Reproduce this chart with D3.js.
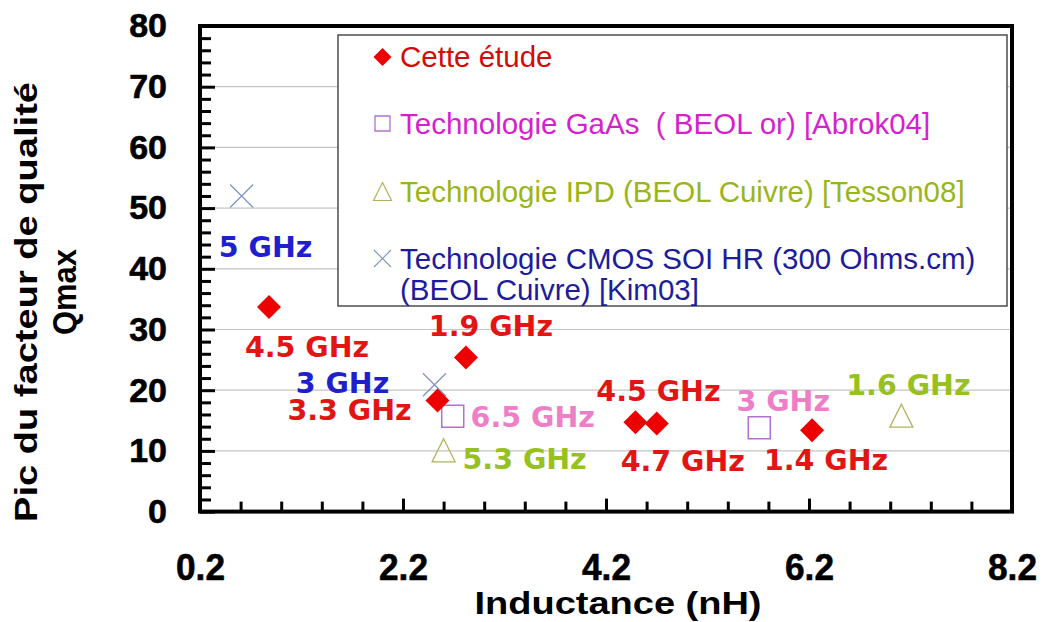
<!DOCTYPE html>
<html>
<head>
<meta charset="utf-8">
<script src="https://cdn.jsdelivr.net/npm/d3@7"></script>
<style>
  html, body { margin: 0; padding: 0; background: #fff; }
  svg { display: block; }
  text { white-space: pre; }
</style>
</head>
<body>
<svg id="chart" width="1042" height="622"></svg>
<script>
// ---- Data: peak quality factor (Qmax) vs inductance (nH) ----
const xTicks = [0.2, 2.2, 4.2, 6.2, 8.2];
const yTicks = [0, 10, 20, 30, 40, 50, 60, 70, 80];

const etudeL = [0.88, 2.82, 2.54, 4.49, 4.70, 6.23];
const etudeQ = [33.7, 25.4, 18.3, 14.7, 14.5, 13.4];
const etudeFreq = ["4.5 GHz", "1.9 GHz", "3.3 GHz", "4.5 GHz", "4.7 GHz", "1.4 GHz"];

const gaasL = [2.69, 5.71];
const gaasQ = [15.7, 13.8];
const gaasFreq = ["6.5 GHz", "3 GHz"];

const ipdL = [2.60, 7.11];
const ipdQ = [10.1, 15.8];
const ipdFreq = ["5.3 GHz", "1.6 GHz"];

const cmosL = [0.61, 2.51];
const cmosQ = [52.0, 20.9];
const cmosFreq = ["5 GHz", "3 GHz"];

const legendLabels = [
  ["Cette étude"],
  ["Technologie GaAs  ( BEOL or) [Abrok04]"],
  ["Technologie IPD (BEOL Cuivre) [Tesson08]"],
  ["Technologie CMOS SOI HR (300 Ohms.cm)", "(BEOL Cuivre) [Kim03]"]
];

// ---- Layout ----
const svg = d3.select("#chart");
const plot = { left: 200, right: 1012, top: 26, bottom: 511.6 };
const x = d3.scaleLinear().domain([0.2, 8.2]).range([plot.left, plot.right]);
const y = d3.scaleLinear().domain([0, 80]).range([plot.bottom, plot.top]);

// label offsets (pixels, relative to the marker) for each frequency annotation
const etudeOffsets = [[38, 50], [25, -21], [-88, 19], [23, -21], [26, 47], [14, 40]];
const gaasOffsets = [[80, 11], [24, -17]];
const ipdOffsets = [[81, 19], [7, -21]];
const cmosOffsets = [[24, 61], [-92, 8]];

const styles = {
  etude: { fill: "#ee0000", text: "#e31414", legendText: "#d40a0a" },
  gaas: { stroke: "#b070cf", text: "#ee7ec6", legendText: "#d61fcf" },
  ipd: { stroke: "#b2b25c", text: "#96c11f", legendText: "#9ab51a" },
  cmos: { stroke: "#7f92c6", text: "#1f1fcf", legendText: "#1c1c9c" }
};

const sans = "'Liberation Sans', Arial, sans-serif";
const wide = "'DejaVu Sans', Verdana, sans-serif";

// ---- Gridlines ----
svg.append("g")
  .selectAll("line")
  .data(yTicks.filter(v => v > 0 && v < 80))
  .join("line")
  .attr("x1", plot.left).attr("x2", plot.right)
  .attr("y1", d => y(d)).attr("y2", d => y(d))
  .attr("stroke", "#c4c4c4").attr("stroke-width", 1.2);

// ---- Legend box ----
const legend = svg.append("g");
legend.append("rect")
  .attr("x", 338).attr("y", 35).attr("width", 669).attr("height", 271)
  .attr("fill", "#fff").attr("stroke", "#4d4d4d").attr("stroke-width", 1.5);

// marker path builders
function diamond(s) { const h = s / 2; return `M0,${-h}L${h},0L0,${h}L${-h},0Z`; }
function square(s) { const h = s / 2; return `M${-h},${-h}H${h}V${h}H${-h}Z`; }
function triangle(s) { const h = s / 2; return `M0,${-h}L${h},${h}L${-h},${h}Z`; }
function cross(s) { const h = s / 2; return `M${-h},${-h}L${h},${h}M${h},${-h}L${-h},${h}`; }

const legendRows = [
  { key: "etude", baseline: 67, path: diamond(18), fill: styles.etude.fill, stroke: "none", sw: 0 },
  { key: "gaas", baseline: 133.5, path: square(15), fill: "none", stroke: styles.gaas.stroke, sw: 1.3 },
  { key: "ipd", baseline: 201.5, path: triangle(18), fill: "none", stroke: styles.ipd.stroke, sw: 1.2 },
  { key: "cmos", baseline: 268.5, path: cross(17), fill: "none", stroke: styles.cmos.stroke, sw: 1.1 }
];

legendRows.forEach((r, i) => {
  legend.append("path")
    .attr("d", r.path)
    .attr("transform", `translate(382.5,${r.baseline - 10})`)
    .attr("fill", r.fill).attr("stroke", r.stroke).attr("stroke-width", r.sw);
  legendLabels[i].forEach((line, j) => {
    legend.append("text")
      .attr("x", 400).attr("y", r.baseline + j * 31.5)
      .attr("font-family", sans).attr("font-size", 29.5)
      .attr("fill", styles[r.key].legendText)
      .text(line);
  });
});

// ---- Frame ----
svg.append("rect")
  .attr("x", plot.left).attr("y", plot.top)
  .attr("width", plot.right - plot.left).attr("height", plot.bottom - plot.top)
  .attr("fill", "none").attr("stroke", "#000").attr("stroke-width", 4);

// ---- Axes ----
const yMinor = d3.range(0, 81, 2).filter(v => v % 10 !== 0);
const xMinor = d3.range(0, 21).map(i => +(0.2 + i * 0.4).toFixed(1)).filter(v => !xTicks.includes(v));

const yMinorAxis = svg.append("g").attr("transform", `translate(${plot.left},0)`)
  .call(d3.axisLeft(y).tickValues(yMinor).tickSize(-11).tickSizeOuter(0).tickFormat(""));
const yAxis = svg.append("g").attr("transform", `translate(${plot.left},0)`)
  .call(d3.axisLeft(y).tickValues(yTicks).tickSize(-15).tickSizeOuter(0).tickPadding(33).tickFormat(d3.format("d")));

const xMinorAxis = svg.append("g").attr("transform", `translate(0,${plot.bottom})`)
  .call(d3.axisBottom(x).tickValues(xMinor).tickSize(-10).tickSizeOuter(0).tickFormat(""));
const xAxis = svg.append("g").attr("transform", `translate(0,${plot.bottom})`)
  .call(d3.axisBottom(x).tickValues(xTicks).tickSize(-13).tickSizeOuter(0).tickFormat(d3.format(".1f")));

[yMinorAxis, yAxis, xMinorAxis, xAxis].forEach(g => {
  g.select(".domain").remove();
  g.selectAll(".tick line").attr("stroke", "#000").attr("stroke-width", 3);
});

yAxis.selectAll(".tick text")
  .attr("font-family", sans).attr("font-size", 34).attr("font-weight", "bold").attr("fill", "#000")
  .attr("stroke", "#000").attr("stroke-width", 0.6);

xAxis.selectAll(".tick text")
  .attr("font-family", sans).attr("font-size", 37).attr("font-weight", "bold").attr("fill", "#000")
  .attr("stroke", "#000").attr("stroke-width", 0.6)
  .attr("y", 68).attr("dy", null)
  .attr("textLength", 49).attr("lengthAdjust", "spacingAndGlyphs");

// ---- Axis titles ----
svg.append("text")
  .attr("x", 618).attr("y", 614)
  .attr("text-anchor", "middle")
  .attr("font-family", sans).attr("font-size", 31).attr("font-weight", "bold")
  .attr("textLength", 287).attr("lengthAdjust", "spacingAndGlyphs")
  .text("Inductance (nH)");

svg.append("text")
  .attr("transform", "translate(37,302) rotate(-90)")
  .attr("text-anchor", "middle")
  .attr("font-family", sans).attr("font-size", 32).attr("font-weight", "bold")
  .attr("textLength", 440).attr("lengthAdjust", "spacingAndGlyphs")
  .text("Pic du facteur de qualité");

svg.append("text")
  .attr("transform", "translate(76,292) rotate(-90)")
  .attr("text-anchor", "middle")
  .attr("font-family", sans).attr("font-size", 33).attr("font-weight", "bold")
  .attr("textLength", 86).attr("lengthAdjust", "spacingAndGlyphs")
  .text("Qmax");

// ---- Series markers and frequency labels ----
function drawSeries(L, Q, freq, offsets, markerPath, attrs, textColor) {
  const pts = L.map((v, i) => ({ l: v, q: Q[i], f: freq[i], o: offsets[i] }));
  const g = svg.append("g");
  g.selectAll("path")
    .data(pts)
    .join("path")
    .attr("d", markerPath)
    .attr("transform", d => `translate(${x(d.l)},${y(d.q)})`)
    .attr("fill", attrs.fill).attr("stroke", attrs.stroke).attr("stroke-width", attrs.sw);
  g.selectAll("text")
    .data(pts)
    .join("text")
    .attr("x", d => x(d.l) + d.o[0])
    .attr("y", d => y(d.q) + d.o[1])
    .attr("text-anchor", "middle")
    .attr("font-family", wide).attr("font-size", 28.5).attr("font-weight", "bold")
    .attr("fill", textColor)
    .text(d => d.f);
}

drawSeries(cmosL, cmosQ, cmosFreq, cmosOffsets, cross(23),
  { fill: "none", stroke: styles.cmos.stroke, sw: 1.2 }, styles.cmos.text);
drawSeries(gaasL, gaasQ, gaasFreq, gaasOffsets, square(22),
  { fill: "none", stroke: styles.gaas.stroke, sw: 1.5 }, styles.gaas.text);
drawSeries(ipdL, ipdQ, ipdFreq, ipdOffsets, triangle(23),
  { fill: "none", stroke: styles.ipd.stroke, sw: 1.3 }, styles.ipd.text);
drawSeries(etudeL, etudeQ, etudeFreq, etudeOffsets, diamond(24),
  { fill: styles.etude.fill, stroke: "none", sw: 0 }, styles.etude.text);
</script>
</body>
</html>
